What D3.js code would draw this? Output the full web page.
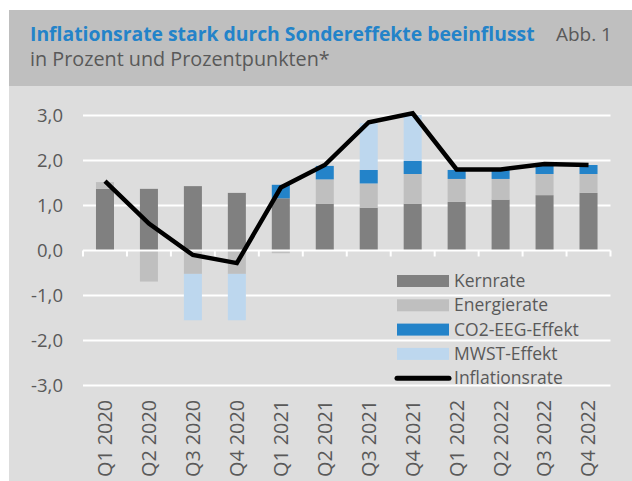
<!DOCTYPE html>
<html>
<head>
<meta charset="utf-8">
<script src="https://cdn.jsdelivr.net/npm/d3@7"></script>
<style>
  body { margin: 0; background: #fff; }
  text { font-family: "Open Sans", "Noto Sans", sans-serif; }
</style>
</head>
<body>
<div id="chart"></div>
<script>
var quarters = ["Q1 2020", "Q2 2020", "Q3 2020", "Q4 2020", "Q1 2021", "Q2 2021",
                "Q3 2021", "Q4 2021", "Q1 2022", "Q2 2022", "Q3 2022", "Q4 2022"];
var kernrate   = [1.37, 1.37, 1.43, 1.28, 1.16, 1.04, 0.95, 1.04, 1.08, 1.13, 1.23, 1.28];
var energie    = [0.15, -0.69, -0.52, -0.52, -0.06, 0.54, 0.54, 0.66, 0.51, 0.46, 0.47, 0.42];
var co2eeg     = [0, 0, 0, 0, 0.30, 0.30, 0.30, 0.29, 0.20, 0.20, 0.22, 0.20];
var mwst       = [0, 0, -1.03, -1.03, 0, 0, 1.04, 1.02, 0, 0, 0, 0];
var inflation  = [1.54, 0.60, -0.10, -0.28, 1.40, 1.90, 2.85, 3.05, 1.80, 1.80, 1.92, 1.90];
var yTicks = [-3, -2, -1, 0, 1, 2, 3];

var seriesNames = ["Kernrate", "Energierate", "CO2-EEG-Effekt", "MWST-Effekt"];
var seriesColors = ["#808080", "#bfbfbf", "#2383c9", "#bdd7ee"];

var width = 632, height = 481;

var svg = d3.select("#chart").append("svg")
            .attr("width", width)
            .attr("height", height);

// fit font size of a text so that it gets the wanted width
function fitText(sel, size, target) {
  var w = sel.node().getComputedTextLength();
  sel.style("font-size", (size * target / w) + "px");
}

// panels
svg.append("rect").attr("x", 9).attr("y", 10).attr("width", width - 9).attr("height", 76).attr("fill", "#bfbfbf");
svg.append("rect").attr("x", 9).attr("y", 86).attr("width", width - 9).attr("height", height - 86).attr("fill", "#dddddd");

// header
var title = svg.append("text")
   .attr("x", 30).attr("y", 41)
   .attr("fill", "#2383c9")
   .style("font-weight", "bold")
   .style("font-size", "19px")
   .text("Inflationsrate stark durch Sondereffekte beeinflusst");
fitText(title, 19, 505);

var abb = svg.append("text")
   .attr("x", 556).attr("y", 41)
   .attr("fill", "#595959")
   .style("font-size", "19px")
   .text("Abb. 1");
fitText(abb, 19, 56);

var sub = svg.append("text")
   .attr("x", 30).attr("y", 66)
   .attr("fill", "#595959")
   .style("font-size", "19px")
   .text("in Prozent und Prozentpunkten*");
fitText(sub, 19, 300);

var x = d3.scaleBand()
          .domain(quarters)
          .range([83, 610.5])
          .paddingInner(0.59)
          .paddingOuter(0.295);

var y = d3.scaleLinear()
          .domain([-3, 3])
          .range([385.5, 115.5]);

// gridlines
svg.append("g")
   .selectAll("line")
   .data(yTicks.filter(function(d){ return d !== 0; }))
   .enter().append("line")
   .attr("x1", 83).attr("x2", 610.5)
   .attr("y1", function(d){ return y(d); })
   .attr("y2", function(d){ return y(d); })
   .attr("stroke", "#fff")
   .attr("stroke-width", 2);

// y labels
svg.append("g")
   .selectAll("text")
   .data(yTicks)
   .enter().append("text")
   .attr("x", 63)
   .attr("y", function(d){ return y(d); })
   .attr("dy", "0.35em")
   .attr("text-anchor", "end")
   .attr("fill", "#595959")
   .style("font-size", "18.5px")
   .text(function(d){ return d3.format(".1f")(d).replace(".", ",").replace("\u2212", "-"); });

// stacked bars
var rows = quarters.map(function(q, i){
  return { q: q, s0: kernrate[i], s1: energie[i], s2: co2eeg[i], s3: mwst[i] };
});
var stack = d3.stack()
              .keys(["s0", "s1", "s2", "s3"])
              .offset(d3.stackOffsetDiverging);
var layers = stack(rows);

svg.append("g")
   .selectAll("g")
   .data(layers)
   .enter().append("g")
   .attr("fill", function(d, i){ return seriesColors[i]; })
   .selectAll("rect")
   .data(function(d){ return d; })
   .enter().append("rect")
   .attr("x", function(d){ return x(d.data.q); })
   .attr("width", x.bandwidth())
   .attr("y", function(d){ return y(Math.max(d[0], d[1])); })
   .attr("height", function(d){ return Math.abs(y(d[0]) - y(d[1])); });

// x axis at zero
var xAxis = svg.append("g")
   .attr("transform", "translate(0," + y(0) + ")");
xAxis.append("line")
   .attr("x1", 83).attr("x2", 610.5)
   .attr("stroke", "#fff").attr("stroke-width", 2);
var bounds = quarters.map(function(q){ return x(q) - x.step() * x.paddingInner() / 2; });
bounds.push(610.5);
xAxis.selectAll("line.tick")
   .data(bounds)
   .enter().append("line")
   .attr("class", "tick")
   .attr("x1", function(d){ return d; })
   .attr("x2", function(d){ return d; })
   .attr("y1", 0).attr("y2", 6)
   .attr("stroke", "#fff").attr("stroke-width", 2);

// x labels
var xLabels = svg.append("g")
   .selectAll("text")
   .data(quarters)
   .enter().append("text")
   .attr("transform", function(d){
     return "translate(" + (x(d) + x.bandwidth() / 2) + ",400) rotate(-90)";
   })
   .attr("dy", "0.35em")
   .attr("text-anchor", "end")
   .attr("fill", "#595959")
   .style("font-size", "18px")
   .text(function(d){ return d; });
var lw = xLabels.node().getComputedTextLength();
xLabels.style("font-size", (18 * 77 / lw) + "px");

// inflation line
var valueLine = d3.line()
                  .x(function(d, i){ return x(quarters[i]) + x.bandwidth() / 2; })
                  .y(function(d){ return y(d); });

svg.append("path")
   .attr("d", valueLine(inflation))
   .attr("fill", "none")
   .attr("stroke", "#000")
   .attr("stroke-width", 4.5)
   .attr("stroke-linejoin", "miter");

// legend
var legend = svg.append("g").attr("transform", "translate(397,281)");
var items = legend.selectAll("g")
   .data(seriesNames.concat(["Inflationsrate"]))
   .enter().append("g")
   .attr("transform", function(d, i){ return "translate(0," + (i * 24.3) + ")"; });
items.filter(function(d, i){ return i < 4; })
   .append("rect")
   .attr("x", 0).attr("y", -6)
   .attr("width", 52).attr("height", 12)
   .attr("fill", function(d, i){ return seriesColors[i]; });
items.filter(function(d, i){ return i === 4; })
   .append("line")
   .attr("x1", 0).attr("x2", 52)
   .attr("stroke", "#000").attr("stroke-width", 5)
   .attr("stroke-linecap", "round");
items.append("text")
   .attr("x", 57)
   .attr("dy", "0.35em")
   .attr("fill", "#595959")
   .style("font-size", "17.5px")
   .text(function(d){ return d; });
</script>
</body>
</html>
